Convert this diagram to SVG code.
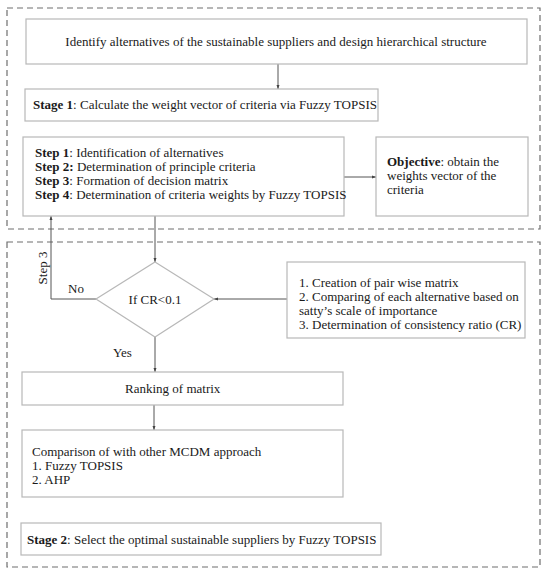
<svg xmlns="http://www.w3.org/2000/svg" width="550" height="574" viewBox="0 0 550 574">
<style>
text{font-family:"Liberation Serif","Times New Roman",serif;font-size:13px;fill:#1a1a1a}
.b{font-weight:bold}
.box{fill:#fff;stroke:#b8b8b8;stroke-width:1.2}
.dash{fill:none;stroke:#6e6e6e;stroke-width:1.2;stroke-dasharray:6 4}
.con{fill:none;stroke:#555;stroke-width:1}
</style>
<defs>
<marker id="ah" markerWidth="4" markerHeight="4" refX="4" refY="2" orient="auto" markerUnits="userSpaceOnUse">
<path d="M0,0.5 L4,2 L0,3.5 Z" fill="#444"/>
</marker>
</defs>
<rect width="550" height="574" fill="#fff"/>
<g id="stage1-frame"><rect class="dash" x="7" y="8" width="533" height="221"/></g>
<g id="stage2-frame"><rect class="dash" x="7" y="242" width="533" height="325"/></g>

<g id="connectors">
<line class="con" x1="278" y1="64" x2="278" y2="89" marker-end="url(#ah)"/>
<line class="con" x1="344" y1="177" x2="376" y2="177" marker-end="url(#ah)"/>
<line class="con" x1="155" y1="216" x2="155" y2="262" marker-end="url(#ah)"/>
<polyline class="con" points="96,299 51,299 51,216" marker-end="url(#ah)"/>
<line class="con" x1="287" y1="299" x2="214" y2="299" marker-end="url(#ah)"/>
<line class="con" x1="155" y1="337" x2="155" y2="372" marker-end="url(#ah)"/>
<line class="con" x1="154" y1="405" x2="154" y2="430" marker-end="url(#ah)"/>
<text x="68" y="293">No</text>
<text x="113" y="357">Yes</text>
<text transform="translate(47,268) rotate(-90)" text-anchor="middle">Step 3</text>
</g>

<g id="identify">
<rect class="box" x="26" y="19" width="501" height="45"/>
<text x="276" y="46" text-anchor="middle">Identify alternatives of the sustainable suppliers and design hierarchical structure</text>
</g>
<g id="stage1">
<rect class="box" x="25" y="89" width="353" height="32"/>
<text x="33" y="109"><tspan class="b">Stage 1</tspan>: Calculate the weight vector of criteria via Fuzzy TOPSIS</text>
</g>
<g id="steps">
<rect class="box" x="23" y="137" width="321" height="79"/>
<text x="35" y="157"><tspan class="b">Step 1</tspan>: Identification of alternatives</text>
<text x="35" y="171"><tspan class="b">Step 2:</tspan> Determination of principle criteria</text>
<text x="35" y="185"><tspan class="b">Step 3</tspan>: Formation of decision matrix</text>
<text x="35" y="199"><tspan class="b">Step 4</tspan>: Determination of criteria weights by Fuzzy TOPSIS</text>
</g>
<g id="objective">
<rect class="box" x="376" y="137" width="152" height="79"/>
<text x="387" y="166"><tspan class="b">Objective</tspan>: obtain the</text>
<text x="387" y="180">weights vector of the</text>
<text x="387" y="194">criteria</text>
</g>
<g id="decision">
<polygon class="box" points="155,262 214,299 155,337 96,299"/>
<text x="155" y="304" text-anchor="middle">If CR&lt;0.1</text>
</g>
<g id="pairwise">
<rect class="box" x="287" y="262" width="238" height="76"/>
<text x="299" y="287">1. Creation of pair wise matrix</text>
<text x="299" y="301">2. Comparing of each alternative based on</text>
<text x="299" y="315">satty’s scale of importance</text>
<text x="299" y="329">3. Determination of consistency ratio (CR)</text>
</g>
<g id="ranking">
<rect class="box" x="22" y="372" width="321" height="33"/>
<text x="125" y="393">Ranking of matrix</text>
</g>
<g id="comparison">
<rect class="box" x="22" y="430" width="321" height="67"/>
<text x="32" y="456">Comparison of with other MCDM approach</text>
<text x="32" y="470">1. Fuzzy TOPSIS</text>
<text x="32" y="484">2. AHP</text>
</g>
<g id="stage2">
<rect class="box" x="21" y="523" width="360" height="32"/>
<text x="27" y="544"><tspan class="b">Stage 2</tspan>: Select the optimal sustainable suppliers by Fuzzy TOPSIS</text>
</g>
</svg>
